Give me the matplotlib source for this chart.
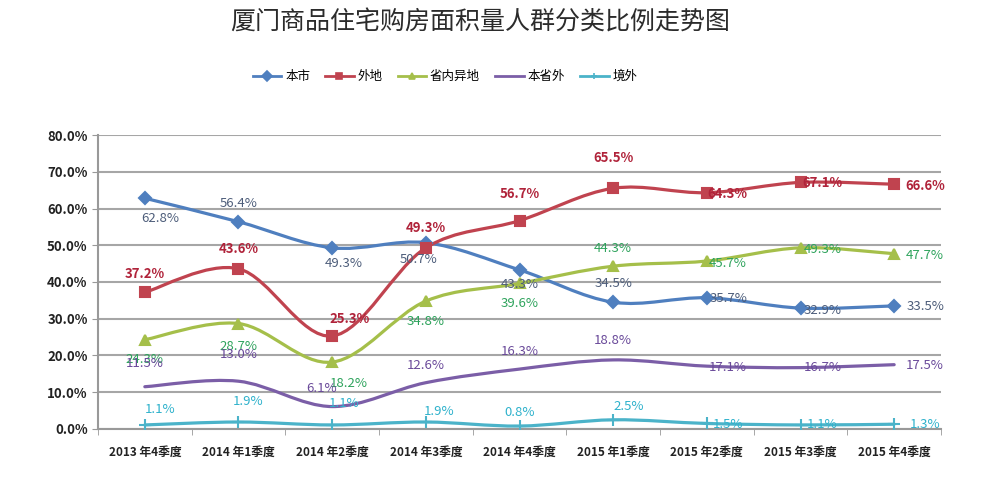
import matplotlib
matplotlib.use("Agg")
import matplotlib.pyplot as plt
from matplotlib.path import Path
from matplotlib.patches import PathPatch
from matplotlib.ticker import FuncFormatter, MultipleLocator
from matplotlib.lines import Line2D

plt.rcParams['font.family'] = ['Noto Sans CJK SC', 'DejaVu Sans']

title = "厦门商品住宅购房面积量人群分类比例走势图"
quarters = ["2013 年4季度", "2014 年1季度", "2014 年2季度", "2014 年3季度", "2014 年4季度",
            "2015 年1季度", "2015 年2季度", "2015 年3季度", "2015 年4季度"]
names = ["本市", "外地", "省内异地", "本省外", "境外"]

local = [62.8, 56.4, 49.3, 50.7, 43.3, 34.5, 35.7, 32.9, 33.5]
outside = [37.2, 43.6, 25.3, 49.3, 56.7, 65.5, 64.3, 67.1, 66.6]
in_province = [24.3, 28.7, 18.2, 34.8, 39.6, 44.3, 45.7, 49.3, 47.7]
out_province = [11.5, 13.0, 6.1, 12.6, 16.3, 18.8, 17.1, 16.7, 17.5]
overseas = [1.1, 1.9, 1.1, 1.9, 0.8, 2.5, 1.5, 1.1, 1.3]

series = [local, outside, in_province, out_province, overseas]
line_colors = ["#4f7fbf", "#c0434f", "#a5bf4a", "#7b5ea7", "#4bb3c9"]
label_colors = ["#4d5d7a", "#b0233a", "#2ea35c", "#6a4a9a", "#2fb2cc"]
markers = ["D", "s", "^", None, "+"]
label_bold = [False, True, False, False, False]

# label offsets in pixels (dx, dy), y upward
offsets = [
    [(15, -20), (0, 18), (12, -16), (-7, -17), (0, -15), (0, 19), (22, -1), (22, -2), (31, -1)],
    [(0, 18), (0, 20), (17, 17), (0, 20), (0, 27), (0, 30), (21, -1), (22, -1), (31, -2)],
    [(0, -20), (0, -23), (17, -21), (0, -20), (0, -20), (0, 18), (21, -2), (22, -2), (31, -2)],
    [(0, 23), (0, 27), (-11, 18), (0, 17), (0, 18), (0, 19), (21, -1), (22, 0), (31, -1)],
    [(15, 15), (10, 21), (12, 21), (13, 11), (0, 14), (16, 13), (21, -1), (22, 0), (31, 0)],
]


def smooth_path(xs, ys):
    pts = list(zip(xs, ys))
    verts = [pts[0]]
    codes = [Path.MOVETO]
    n = len(pts)
    for i in range(n - 1):
        p0 = pts[i - 1] if i > 0 else pts[i]
        p1 = pts[i]
        p2 = pts[i + 1]
        p3 = pts[i + 2] if i + 2 < n else pts[i + 1]
        c1 = (p1[0] + (p2[0] - p0[0]) / 6, p1[1] + (p2[1] - p0[1]) / 6)
        c2 = (p2[0] - (p3[0] - p1[0]) / 6, p2[1] - (p3[1] - p1[1]) / 6)
        verts += [c1, c2, p2]
        codes += [Path.CURVE4] * 3
    return Path(verts, codes)


fig = plt.figure(figsize=(10, 4.94), dpi=100)
ax = fig.add_axes([0.098, 0.1316, 0.843, 0.5951])

x = list(range(len(quarters)))
handles = []
for vals, lc, tc, mk, bold, offs, name in zip(series, line_colors, label_colors,
                                               markers, label_bold, offsets, names):
    ax.add_patch(PathPatch(smooth_path(x, vals), facecolor="none", edgecolor=lc,
                           lw=2.3, zorder=3, capstyle="round"))
    if mk:
        ax.plot(x, vals, linestyle="none", marker=mk, color=lc,
                markersize=6.5 if mk != "+" else 9, mew=1.5, zorder=4)
    for xi, v, (dx, dy) in zip(x, vals, offs):
        ax.annotate(f"{v:.1f}%", (xi, v), xytext=(dx, dy), textcoords="offset pixels",
                    ha="center", va="center", fontsize=9.5, color=tc,
                    fontweight="bold" if bold else "normal", zorder=5)
    handles.append(Line2D([], [], color=lc, lw=2, marker=mk, markersize=5, mew=1.2))

ax.set_xlim(-0.5, len(quarters) - 0.5)
ax.set_ylim(0, 80)
ax.yaxis.set_major_locator(MultipleLocator(10))
ax.yaxis.set_major_formatter(FuncFormatter(lambda v, p: f"{v:.1f}%"))
ax.set_xticks(x)
ax.set_xticklabels(quarters, fontsize=8.5, fontweight="bold", color="#222222")
ax.set_xticks([i - 0.5 for i in range(len(quarters) + 1)], minor=True)
ax.tick_params(axis="x", which="major", length=0, pad=12)
ax.tick_params(axis="x", which="minor", length=4, color="#999999", direction="out")
ax.tick_params(axis="y", length=4, color="#999999", labelsize=9.5, labelcolor="#222222")
for lab in ax.get_yticklabels():
    lab.set_fontweight("bold")

ax.grid(axis="y", color="#a6a6a6", lw=1.5)
ax.set_axisbelow(True)
for s in ["top", "right"]:
    ax.spines[s].set_visible(False)
ax.spines["left"].set_color("#999999")
ax.spines["bottom"].set_color("#999999")
ax.spines["left"].set_linewidth(1.5)
ax.spines["bottom"].set_linewidth(1.5)

fig.text(0.48, 0.955, title, ha="center", va="center", fontsize=18,
         color="#2b2b2b", fontweight="medium")
fig.legend(handles, names, loc="center", bbox_to_anchor=(0.445, 0.845), ncol=5,
           frameon=False, fontsize=9, handlelength=2.3, columnspacing=1.2,
           handletextpad=0.3)

fig.savefig("out.png", dpi=100, facecolor="white")
